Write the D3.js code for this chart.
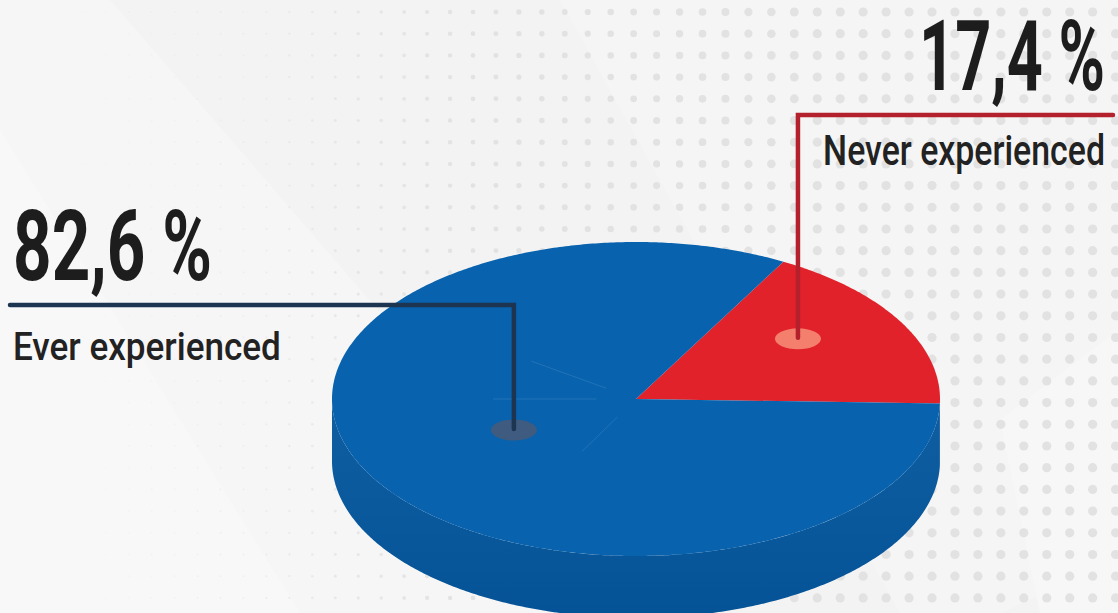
<!DOCTYPE html>
<html>
<head>
<meta charset="utf-8">
<script src="https://cdn.jsdelivr.net/npm/d3@7"></script>
<style>
  html, body { margin: 0; padding: 0; background: #f4f4f4; }
  svg { display: block; }
</style>
</head>
<body>
<svg id="chart" width="1118" height="613"></svg>
<script>
// Survey shares, in percent
const categories = ["Never experienced", "Ever experienced"];
const shares = [17.4, 82.6];
const valueLabels = ["17,4 %", "82,6 %"];

// Colours for each slice: top face, side wall, leader line, anchor dot
const topColors = ["#E2222B", "#0862AD"];
const sideColors = ["#B91D26", "#05579E"];
const leaderColors = ["#B4202B", "#1E3552"];
const dotColors = ["#F47F6D", "#3F5B80"];

const W = 1118, H = 613;
const svg = d3.select("#chart");

// ---------- background: soft diagonal panels + dot grid ----------
const bg = svg.append("g");
bg.append("rect").attr("width", W).attr("height", H).attr("fill", "#f3f3f3");
const panels = [
  { pts: [[0, 0], [110, 0], [640, 613], [0, 613]], fill: "#f6f6f6" },
  { pts: [[0, 130], [300, 613], [0, 613]], fill: "#f8f8f8" },
  { pts: [[560, 0], [1118, 0], [1118, 560], [1000, 613], [900, 613]], fill: "#f5f5f5" },
  { pts: [[1000, 420], [1118, 330], [1118, 613], [1040, 613]], fill: "#f7f7f7" }
];
bg.selectAll("polygon.panel").data(panels).join("polygon")
  .attr("class", "panel")
  .attr("points", d => d.pts.map(p => p.join(",")).join(" "))
  .attr("fill", d => d.fill);

const dots = [];
for (let y = 12; y < H; y += 21.7) {
  for (let x = 14; x < W; x += 22.95) {
    dots.push([x, y]);
  }
}
const dotR = d3.scaleLinear().domain([250, 820]).range([0.9, 4.6]).clamp(true);
const dotO = d3.scaleLinear().domain([60, 460]).range([0, 1]).clamp(true);
bg.selectAll("circle.dot").data(dots).join("circle")
  .attr("class", "dot")
  .attr("cx", d => d[0]).attr("cy", d => d[1])
  .attr("r", d => dotR(d[0]))
  .attr("fill", "#e2e2e2")
  .attr("opacity", d => dotO(d[0]));

// ---------- 3D pie ----------
const cx = 636, cy = 399, rx = 304, ry = 157, depth = 62;
const startA = 29 * Math.PI / 180;

const pie = d3.pie().sort(null).value(d => d)
  .startAngle(startA).endAngle(startA + 2 * Math.PI);
const arcs = pie(shares).map((a, i) => ({ ...a, i }));

// d3 pie angles run clockwise from 12 o'clock; convert to ellipse angle
const toT = a => a - Math.PI / 2;
const pt = (t, f = 1, dy = 0) => [cx + rx * f * Math.cos(t), cy + ry * f * Math.sin(t) + dy];

function edge(t0, t1, dy) {
  const n = Math.max(2, Math.ceil(Math.abs(t1 - t0) / 0.01));
  return d3.range(n + 1).map(k => pt(t0 + (t1 - t0) * k / n, 1, dy));
}

const line = d3.line();
const pie3d = svg.append("g");

// side walls: only the front half (ellipse angles 0..PI) is visible
const sides = [];
arcs.forEach(a => {
  const t0 = toT(a.startAngle), t1 = toT(a.endAngle);
  [-2 * Math.PI, 0, 2 * Math.PI].forEach(s => {
    const lo = Math.max(t0 + s, 0), hi = Math.min(t1 + s, Math.PI);
    if (hi > lo) sides.push({ i: a.i, lo, hi });
  });
});
const sideGrad = svg.append("defs").append("linearGradient")
  .attr("id", "sideShade").attr("x1", 0).attr("y1", 0).attr("x2", 0).attr("y2", 1);
sideGrad.append("stop").attr("offset", 0).attr("stop-color", "#fff").attr("stop-opacity", 0.04);
sideGrad.append("stop").attr("offset", 1).attr("stop-color", "#000").attr("stop-opacity", 0.05);

const sidePath = d => line(edge(d.lo, d.hi, 0).concat(edge(d.hi, d.lo, depth))) + "Z";
pie3d.selectAll("path.side").data(sides).join("path")
  .attr("class", "side")
  .attr("d", sidePath)
  .attr("fill", d => sideColors[d.i]);
pie3d.selectAll("path.sideShade").data(sides).join("path")
  .attr("class", "sideShade")
  .attr("d", sidePath)
  .attr("fill", "url(#sideShade)");

// top faces
pie3d.selectAll("path.top").data(arcs).join("path")
  .attr("class", "top")
  .attr("d", a => line([[cx, cy]].concat(edge(toT(a.startAngle), toT(a.endAngle), 0))) + "Z")
  .attr("fill", a => topColors[a.i]);

// faint facet seams radiating from the centre of the large slice
const seams = [
  { t: 215 * Math.PI / 180, f0: 0.12, f1: 0.42 },
  { t: 180 * Math.PI / 180, f0: 0.13, f1: 0.47 },
  { t: 118 * Math.PI / 180, f0: 0.13, f1: 0.38 }
];
pie3d.selectAll("line.seam").data(seams).join("line")
  .attr("class", "seam")
  .attr("x1", d => pt(d.t, d.f0)[0]).attr("y1", d => pt(d.t, d.f0)[1])
  .attr("x2", d => pt(d.t, d.f1)[0]).attr("y2", d => pt(d.t, d.f1)[1])
  .attr("stroke", "#5d9ad6").attr("stroke-width", 1).attr("opacity", 0.3);

// ---------- callouts ----------
// anchor: offset from slice mid-angle (deg) and radial fraction;
// elbow: y of the horizontal leader, and its far end x; text block placement
const callouts = [
  { i: 0, shift: -6.5, frac: 0.66, elbowY: 115, endX: 1113, align: "end", textX: 1105,
    valueY: 90, valueW: 186, nameY: 165, nameW: 282, nameSize: 42 },
  { i: 1, shift: 4.2, frac: 0.445, elbowY: 305, endX: 10, align: "start", textX: 13,
    valueY: 280, valueW: 199, nameY: 360, nameW: 268, nameSize: 39 }
];

// condensed text: natural glyphs squeezed horizontally to a set width
function condensedText(parent, str, x, y, width, size, weight, anchor, fill) {
  const t = parent.append("text")
    .attr("x", 0).attr("y", 0)
    .attr("text-anchor", anchor)
    .attr("font-family", "Roboto, 'DejaVu Sans Condensed', sans-serif")
    .attr("font-weight", weight)
    .attr("font-size", size)
    .attr("fill", fill)
    .text(str);
  const natural = t.node().getComputedTextLength();
  t.attr("transform", `translate(${x},${y}) scale(${width / natural},1)`);
  return t;
}

const ann = svg.append("g");
callouts.forEach(c => {
  const a = arcs[c.i];
  const mid = toT((a.startAngle + a.endAngle) / 2) + c.shift * Math.PI / 180;
  const [ax, ay] = pt(mid, c.frac);

  ann.append("ellipse")
    .attr("cx", ax).attr("cy", ay + 1)
    .attr("rx", 23).attr("ry", 10.5)
    .attr("fill", dotColors[c.i]);

  ann.append("path")
    .attr("d", d3.line()([[ax, ay], [ax, c.elbowY], [c.endX, c.elbowY]]))
    .attr("fill", "none")
    .attr("stroke", leaderColors[c.i])
    .attr("stroke-width", 4.5)
    .attr("stroke-linecap", "round")
    .attr("stroke-linejoin", "miter");

  condensedText(ann, valueLabels[c.i], c.textX, c.valueY, c.valueW, 98, 700, c.align, "#1d1d1d");
  condensedText(ann, categories[c.i], c.textX, c.nameY, c.nameW, c.nameSize, 500, c.align, "#222");
});
</script>
</body>
</html>
